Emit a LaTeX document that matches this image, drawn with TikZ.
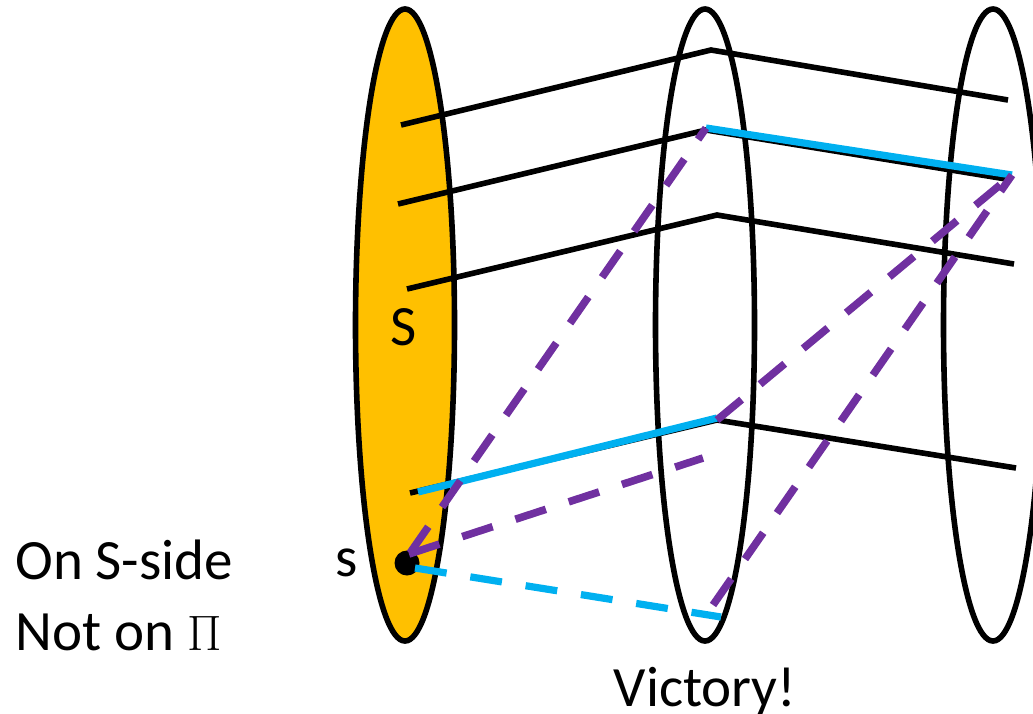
\documentclass[tikz,border=0pt]{standalone}
\usepackage{fontspec}
\setmainfont{Carlito}
\usetikzlibrary{positioning,shapes.geometric}
\definecolor{sideorange}{HTML}{FFC000}
\definecolor{pathblue}{HTML}{00B0F0}
\definecolor{walkpurple}{HTML}{7030A0}

\begin{document}
\begin{tikzpicture}[
  x=0.5pt, y=-0.5pt,
  font=\fontsize{28.5}{34}\selectfont,
  layer/.style={draw=black, line width=2.8pt, ellipse, inner sep=0pt, minimum width=49.5pt, minimum height=316pt},
  edge/.style={black, line width=2.8pt},
  onpath/.style={pathblue, line width=3.6pt},
  offpath/.style={pathblue, line width=3.6pt, dash pattern=on 16pt off 12pt},
  detour/.style={walkpurple, line width=3.8pt, dash pattern=on 16pt off 12pt},
  lbl/.style={inner sep=0pt, anchor=base west}
]
\useasboundingbox (0,0) rectangle (1033,713);

% three layers
\node[layer, fill=sideorange] (setS) at (405,325) {};
\node[layer] (mid) at (705,325) {};
\node[layer] (far) at (993,325) {};

% path points
\coordinate (p1) at (401,125); \coordinate (q1) at (711,50);  \coordinate (r1) at (1008,100);
\coordinate (p2) at (398,204); \coordinate (q2) at (706,130); \coordinate (r2) at (1006,179);
\coordinate (p3) at (407,289); \coordinate (q3) at (717,215); \coordinate (r3) at (1014,264);
\coordinate (p4) at (410,493); \coordinate (q4) at (717,420); \coordinate (r4) at (1016,468);

\draw[edge] (p1) -- (q1) -- (r1);
\draw[edge] (p2) -- (q2) -- (r2);
\draw[edge] (p3) -- (q3) -- (r3);
\draw[edge] (p4) -- (q4) -- (r4);

% blue pieces
\coordinate (b2a) at (706,128); \coordinate (b2b) at (1012,175);
\coordinate (b4a) at (418,492); \coordinate (b4b) at (717,418);
\draw[onpath] (b2a) -- (b2b);
\draw[onpath] (b4a) -- (b4b);

\node[circle, fill=black, inner sep=0pt, minimum size=12.5pt] (dot) at (407,563) {};
\node[inner sep=0pt, left=18pt of dot] (slabel) {s};
\node[inner sep=0pt] (Slabel) at (404,327) {S};

\coordinate (dotA) at (410,553);
\coordinate (dotB) at (409,554);
\coordinate (dotC) at (415,568);
\coordinate (midlow) at (703,458);
\coordinate (midbot) at (713,605);
\coordinate (blueend) at (721,617);

\draw[offpath] (dotC) -- (blueend);
\draw[detour] (dotA) -- (b2a);
\draw[detour] (dotB) -- (midlow);
\draw[detour] (q4) -- (b2b);
\draw[detour] (midbot) -- (b2b);

\node[inner sep=0pt, below=11.5pt of mid] (win) {Victory!};
\node[lbl] (side) at (15,579) {On S-side};
\node[lbl] (notpi) at (15,650) {Not on $\Pi$};
\end{tikzpicture}
\end{document}
